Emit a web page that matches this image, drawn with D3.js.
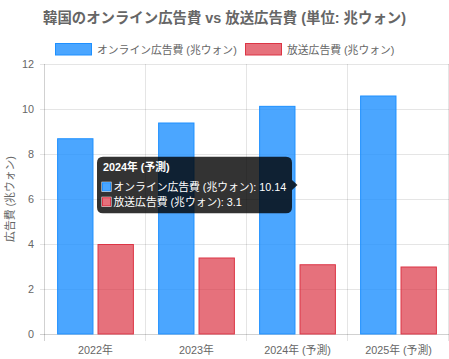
<!DOCTYPE html>
<html><head><meta charset="utf-8">
<script src="https://cdn.jsdelivr.net/npm/d3@7"></script>
<style>
html,body{margin:0;padding:0;background:#fff;}
svg{display:block;font-family:"Liberation Sans","Noto Sans CJK JP",sans-serif;}
</style></head>
<body><svg id="c" width="449" height="359"></svg>
<script>
const title = "韓国のオンライン広告費 vs 放送広告費 (単位: 兆ウォン)";
const categories = ["2022年","2023年","2024年 (予測)","2025年 (予測)"];
const seriesNames = ["オンライン広告費 (兆ウォン)","放送広告費 (兆ウォン)"];
const onlineValues = [8.7, 9.4, 10.14, 10.6];
const broadcastValues = [4.0, 3.4, 3.1, 3.0];
const yTicks = [0,2,4,6,8,10,12];
const yTitle = "広告費 (兆ウォン)";
const tooltipIndex = 2;

const fills = ["rgba(30,144,255,0.8)","rgba(220,53,69,0.7)"];
const strokes = ["rgb(30,144,255)","rgb(220,53,69)"];
const series = [onlineValues, broadcastValues];

const svg = d3.select("#c");
const L = 45, R = 449, T = 64, B = 334;
const x0 = d3.scaleBand().domain(categories).range([L,R]).padding(0);
const x1 = d3.scaleBand().domain(d3.range(series.length))
  .range([x0.bandwidth()*0.1, x0.bandwidth()*0.9]).paddingInner(0.1).paddingOuter(0.05);
const y = d3.scaleLinear().domain([0,12]).range([B,T]);

// title
svg.append("text").attr("x",224.5).attr("y",22.5).attr("text-anchor","middle")
  .attr("font-size",14.4).attr("font-weight","bold").attr("fill","#666").text(title);

// legend
const legendX = [55, 245];
seriesNames.forEach((n,i)=>{
  const g = svg.append("g");
  g.append("rect").attr("x",legendX[i]+0.5).attr("y",43.5).attr("width",36).attr("height",11.5)
    .attr("fill",fills[i]).attr("stroke",strokes[i]).attr("stroke-width",1);
  g.append("text").attr("x",legendX[i]+42).attr("y",53.5).attr("font-size",10.8)
    .attr("fill","#666").text(n);
});

// grid
const grid = svg.append("g");
yTicks.forEach(t=>{
  grid.append("line").attr("x1",L-5).attr("x2",R).attr("y1",Math.round(y(t))+0.5).attr("y2",Math.round(y(t))+0.5)
    .attr("stroke", t===0 ? "rgba(0,0,0,0.18)" : "rgba(0,0,0,0.1)");
});
categories.concat([null]).forEach((c,i)=>{
  const xv = c===null ? R-0.5 : x0(c);
  grid.append("line").attr("x1",Math.round(xv)-0.5).attr("x2",Math.round(xv)-0.5).attr("y1",T).attr("y2",B+7)
    .attr("stroke", i===0 ? "rgba(0,0,0,0.18)" : "rgba(0,0,0,0.1)");
});

// y tick labels
svg.append("g").selectAll("text").data(yTicks).join("text")
  .attr("x",34).attr("y",d=>y(d)+3.8).attr("text-anchor","end")
  .attr("font-size",10.8).attr("fill","#666").text(d=>d);

// x labels
svg.append("g").selectAll("text").data(categories).join("text")
  .attr("x",d=>x0(d)+x0.bandwidth()/2).attr("y",354).attr("text-anchor","middle")
  .attr("font-size",10.8).attr("fill","#666").text(d=>d);

// y title
svg.append("text").attr("transform","translate(14,199) rotate(-90)").attr("text-anchor","middle")
  .attr("font-size",10.8).attr("fill","#666").text(yTitle);

// bars
series.forEach((vals,si)=>{
  svg.append("g").selectAll("rect").data(vals).join("rect")
    .attr("x",(d,i)=>x0(categories[i])+x1(si)+0.5)
    .attr("y",d=>y(d)+0.5)
    .attr("width",x1.bandwidth()-1)
    .attr("height",d=>B-y(d)-0.5)
    .attr("fill",fills[si]).attr("stroke",strokes[si]).attr("stroke-width",1);
});

// tooltip
const cx = series.map((v,si)=>x0(categories[tooltipIndex])+x1(si)+x1.bandwidth()/2);
const tipX = d3.mean(cx);
const tipY = d3.mean(series.map(v=>y(v[tooltipIndex])));
const boxW = 195, boxH = 56.5;
const boxR = tipX - 5.5, boxL = boxR - boxW, boxT = tipY - 28.3;
const tg = svg.append("g");
tg.append("path").attr("d",
  `M${boxL+6},${boxT} H${boxR-6} Q${boxR},${boxT} ${boxR},${boxT+6} V${tipY-5} L${tipX},${tipY} L${boxR},${tipY+5} V${boxT+boxH-6} Q${boxR},${boxT+boxH} ${boxR-6},${boxT+boxH} H${boxL+6} Q${boxL},${boxT+boxH} ${boxL},${boxT+boxH-6} V${boxT+6} Q${boxL},${boxT} ${boxL+6},${boxT} Z`)
  .attr("fill","rgba(0,0,0,0.8)");
tg.append("text").attr("x",boxL+6).attr("y",boxT+14.5).attr("font-size",10.8).attr("font-weight","bold")
  .attr("fill","#fff").text(categories[tooltipIndex]);
series.forEach((vals,si)=>{
  const ly = boxT + 24.5 + si*15;
  tg.append("rect").attr("x",boxL+4.5).attr("y",ly+0.5).attr("width",10).attr("height",10)
    .attr("fill","#fff");
  tg.append("rect").attr("x",boxL+5.5).attr("y",ly+1.5).attr("width",8).attr("height",8)
    .attr("fill",fills[si]).attr("stroke",strokes[si]).attr("stroke-width",1);
  tg.append("text").attr("x",boxL+16.5).attr("y",ly+9.5).attr("font-size",10.8)
    .attr("fill","#fff").text(seriesNames[si] + ": " + vals[tooltipIndex]);
});
</script></body></html>
